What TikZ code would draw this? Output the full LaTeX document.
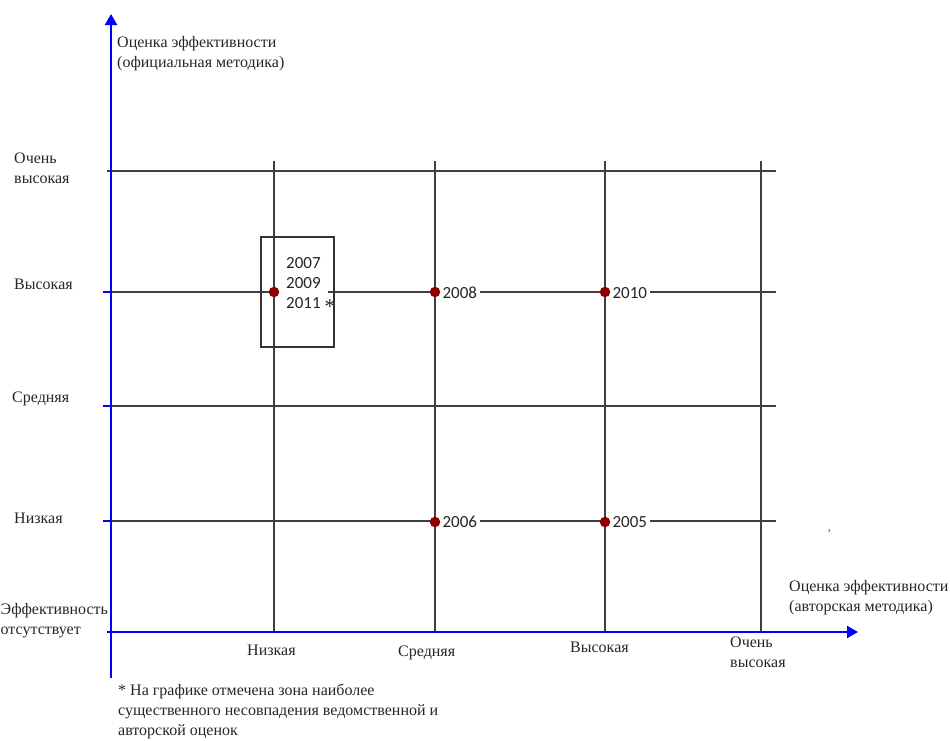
\documentclass[tikz,border=0pt]{standalone}
\usepackage{fontspec}
\setmainfont{Liberation Serif}
\newfontfamily\yearfont{Carlito}
\usetikzlibrary{arrows.meta}
\begin{document}
\begin{tikzpicture}[x=1pt,y=-1pt,
  grid/.style={line width=1.3pt, black!75},
  axis/.style={line width=2.2pt, blue, -{Triangle[width=12pt,length=11pt]}},
  tickmark/.style={line width=1.5pt, blue},
  lbl/.style={font=\fontsize{16}{20}\selectfont, align=left, inner sep=0pt, anchor=base west, text=black!85},
  yr/.style={font=\yearfont\fontsize{17}{20}\selectfont, fill=white, inner ysep=1pt, anchor=west, text=black!85},
  dot/.style={circle, fill=red!55!black, inner sep=0pt, minimum size=10.5pt},
  zone/.style={draw=black!80, line width=1.3pt}]
\useasboundingbox (0,0) rectangle (950,740);
% axis endpoints
\coordinate (yb) at (111,678);
\coordinate (yt) at (111,14);
\coordinate (xl) at (107,632);
\coordinate (xr) at (858,632);
% grid lines (horizontal)
\coordinate (h1a) at (107,171); \coordinate (h1b) at (776,171);
\coordinate (h2a) at (111,292); \coordinate (h2b) at (776,292);
\coordinate (h3a) at (111,406); \coordinate (h3b) at (776,406);
\coordinate (h4a) at (111,521); \coordinate (h4b) at (776,521);
\draw[grid] (h1a) -- (h1b);
\draw[grid] (h2a) -- (h2b);
\draw[grid] (h3a) -- (h3b);
\draw[grid] (h4a) -- (h4b);
% grid lines (vertical)
\coordinate (v1a) at (274,161); \coordinate (v1b) at (274,632);
\coordinate (v2a) at (435,161); \coordinate (v2b) at (435,632);
\coordinate (v3a) at (605,161); \coordinate (v3b) at (605,632);
\coordinate (v4a) at (761,161); \coordinate (v4b) at (761,632);
\draw[grid] (v1a) -- (v1b);
\draw[grid] (v2a) -- (v2b);
\draw[grid] (v3a) -- (v3b);
\draw[grid] (v4a) -- (v4b);
% ticks on y axis
\coordinate (t2) at (103,292); \coordinate (t3) at (103,406); \coordinate (t4) at (103,521);
\draw[tickmark] (t2) -- (h2a);
\draw[tickmark] (t3) -- (h3a);
\draw[tickmark] (t4) -- (h4a);
% axes
\draw[axis] (yb) -- (yt);
\draw[axis] (xl) -- (xr);
% zone box
\coordinate (z1) at (261,237); \coordinate (z2) at (334,347);
\draw[zone] (z1) rectangle (z2);
% year labels
\node[yr, inner xsep=7.5pt, align=left, anchor=north west, font=\yearfont\fontsize{17}{20}\selectfont] (y079) at (278.5,256) {2007\\2009\\2011};
\node[lbl, font=\fontsize{21}{21}\selectfont] (ast) at (324.5,313) {*};
\node[yr] (y08) at (439,293) {2008};
\node[yr] (y10) at (609,293) {2010};
\node[yr] (y06) at (439,522) {2006};
\node[yr] (y05) at (609,522) {2005};
% dots
\node[dot] (d1) at (274,292) {};
\node[dot] (d2) at (435,292) {};
\node[dot] (d3) at (605,292) {};
\node[dot] (d4) at (435,522) {};
\node[dot] (d5) at (605,522) {};
% y axis labels (base = baseline of last line)
\node[lbl] (ytitle) at (117,67) {Оценка эффективности\\(официальная методика)};
\node[lbl] (yl5) at (14,183) {Очень\\высокая};
\node[lbl] (yl4) at (14,289) {Высокая};
\node[lbl] (yl3) at (12,402) {Средняя};
\node[lbl] (yl2) at (14,523) {Низкая};
\node[lbl] (yl1) at (0.5,634) {Эффективность\\отсутствует};
% x axis labels
\node[lbl] (xtitle) at (789,611) {Оценка эффективности\\(авторская методика)};
\node[lbl] (xl2) at (247,655) {Низкая};
\node[lbl] (xl3) at (398,656) {Средняя};
\node[lbl] (xl4) at (570,652) {Высокая};
\node[lbl] (xl5) at (730,667) {Очень\\высокая};
% stray mark
\node[lbl, font=\fontsize{13}{13}\selectfont, text=black!60] (mark) at (827,538) {'};
% footnote
\node[lbl] (note) at (118,735) {* На графике отмечена зона наиболее\\существенного несовпадения ведомственной и\\авторской оценок};
\end{tikzpicture}
\end{document}
